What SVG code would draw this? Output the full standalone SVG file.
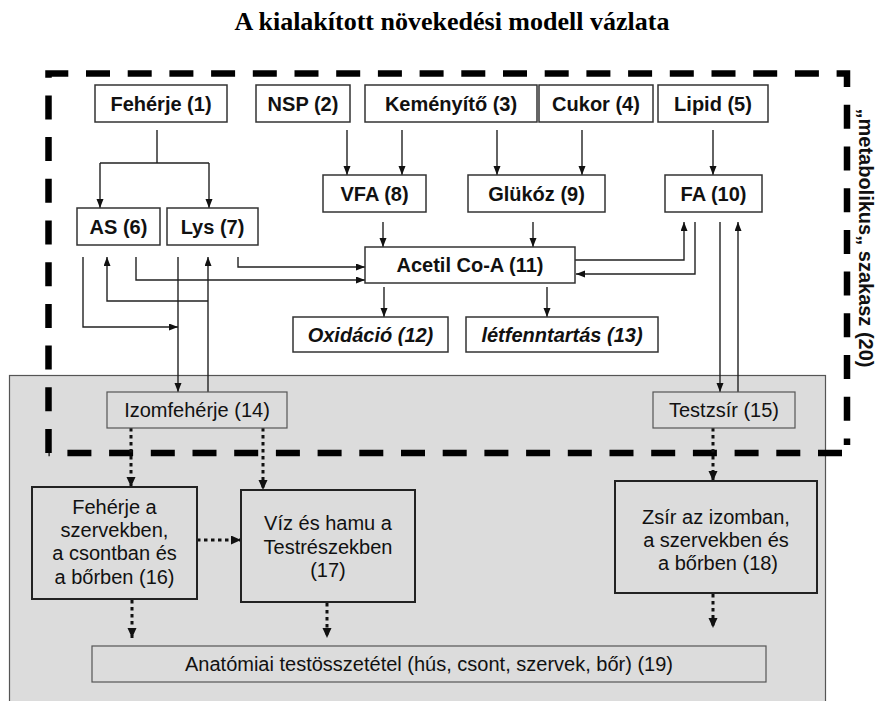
<svg xmlns="http://www.w3.org/2000/svg" width="878" height="701" viewBox="0 0 878 701">
<style>
.box{fill:#fff;stroke:#333;stroke-width:1.5}
.gbox{fill:#dcdcdc;stroke:#555;stroke-width:1.2}
.gbox2{fill:#dcdcdc;stroke:#222;stroke-width:2}
.t{font-family:"Liberation Sans",Arial,sans-serif;font-size:20px;text-anchor:middle;fill:#111}
.b{font-weight:bold}
.i{font-style:italic}
.conn{fill:none;stroke:#222;stroke-width:1.4}
.dot{fill:none;stroke:#111;stroke-width:3;stroke-dasharray:3.5 3.5}
.border{fill:none;stroke:#000;stroke-width:6.5;stroke-dasharray:24 17.7}
</style>
<defs>
<marker id="a" markerUnits="userSpaceOnUse" markerWidth="10" markerHeight="8" refX="9" refY="3.5" orient="auto"><path d="M0,0 L9,3.5 L0,7 z" fill="#111"/></marker>
<marker id="ad" markerUnits="userSpaceOnUse" markerWidth="11" markerHeight="10" refX="10" refY="4.5" orient="auto"><path d="M0,0 L10,4.5 L0,9 z" fill="#111"/></marker>
</defs>
<rect x="0" y="0" width="878" height="701" fill="#fff"/>
<text x="452" y="30" font-family="'Liberation Serif','Times New Roman',serif" font-size="26" font-weight="bold" text-anchor="middle" fill="#000">A kialakított növekedési modell vázlata</text>
<rect x="9.5" y="375.5" width="816" height="340" fill="#dcdcdc" stroke="#555" stroke-width="1.2"/>
<path class="border" d="M48.5,453 V73.5 H847 V445 M842,453 H48.5"/>
<text class="t b" transform="translate(859,238) rotate(90)">„metabolikus„ szakasz (20)</text>
<g id="connectors">
<path class="conn" d="M157,130 V163 M100,163 H209" stroke="#444"/>
<path class="conn" d="M100,163 V208" marker-end="url(#a)"/>
<path class="conn" d="M209,163 V208" marker-end="url(#a)"/>
<path class="conn" d="M347,130 V175" marker-end="url(#a)"/>
<path class="conn" d="M402,130 V175" marker-end="url(#a)"/>
<path class="conn" d="M497,130 V175" marker-end="url(#a)"/>
<path class="conn" d="M582,130 V175" marker-end="url(#a)"/>
<path class="conn" d="M713,130 V175" marker-end="url(#a)"/>
<path class="conn" d="M383,222 V247" marker-end="url(#a)"/>
<path class="conn" d="M533,222 V247" marker-end="url(#a)"/>
<path class="conn" d="M384,287 V317" marker-end="url(#a)"/>
<path class="conn" d="M547,287 V317" marker-end="url(#a)"/>
<path class="conn" d="M575,260 H684 V222" marker-end="url(#a)"/>
<path class="conn" d="M695,222 V274 H576" marker-end="url(#a)"/>
<path class="conn" d="M720,222 V392" marker-end="url(#a)"/>
<path class="conn" d="M738,392 V222" marker-end="url(#a)"/>
<path class="conn" d="M238,257 V267 H365" marker-end="url(#a)"/>
<path class="conn" d="M136,257 V280 H365" marker-end="url(#a)"/>
<path class="conn" d="M83,257 V327 H178" marker-end="url(#a)"/>
<path class="conn" d="M208,301 H107 V257" marker-end="url(#a)"/>
<path class="conn" d="M208,392 V257" marker-end="url(#a)"/>
<path class="conn" d="M178,257 V392" marker-end="url(#a)"/>
<path class="dot" d="M131,428 V487" marker-end="url(#ad)"/>
<path class="dot" d="M263,428 V490" marker-end="url(#ad)"/>
<path class="dot" d="M197,540 H241" marker-end="url(#ad)"/>
<path class="dot" d="M132,600 V638" marker-end="url(#ad)"/>
<path class="dot" d="M327,603 V638" marker-end="url(#ad)"/>
<path class="dot" d="M713,428 V481" marker-end="url(#ad)"/>
<path class="dot" d="M713,594 V628" marker-end="url(#ad)"/>
</g>
<g id="n1"><rect class="box" x="95" y="85" width="132" height="37"/><text class="t b" x="161" y="110.5">Fehérje (1)</text></g>
<g id="n2"><rect class="box" x="256" y="85" width="94" height="37"/><text class="t b" x="303" y="110.5">NSP (2)</text></g>
<g id="n3"><rect class="box" x="365" y="85" width="172" height="37"/><text class="t b" x="451" y="110.5">Keményítő (3)</text></g>
<g id="n4"><rect class="box" x="539" y="85" width="114" height="37"/><text class="t b" x="596" y="110.5">Cukor (4)</text></g>
<g id="n5"><rect class="box" x="658" y="85" width="110" height="37"/><text class="t b" x="713" y="110.5">Lipid (5)</text></g>
<g id="n6"><rect class="box" x="77" y="208" width="83" height="37"/><text class="t b" x="118.5" y="233.5">AS (6)</text></g>
<g id="n7"><rect class="box" x="167" y="208" width="91" height="37"/><text class="t b" x="212.5" y="233.5">Lys (7)</text></g>
<g id="n8"><rect class="box" x="323" y="175" width="103" height="37"/><text class="t b" x="374.5" y="200.5">VFA (8)</text></g>
<g id="n9"><rect class="box" x="468" y="175" width="137" height="37"/><text class="t b" x="536.5" y="200.5">Glükóz (9)</text></g>
<g id="n10"><rect class="box" x="665" y="175" width="97" height="37"/><text class="t b" x="713.5" y="200.5">FA (10)</text></g>
<g id="n11"><rect class="box" x="365" y="247" width="210" height="36"/><text class="t b" x="470" y="272">Acetil Co-A (11)</text></g>
<g id="n12"><rect class="box" x="293" y="317" width="155" height="35"/><text class="t b i" x="370.5" y="341.5">Oxidáció (12)</text></g>
<g id="n13"><rect class="box" x="466" y="317" width="192" height="35"/><text class="t b i" x="562" y="341.5">létfenntartás (13)</text></g>
<g id="n14"><rect class="gbox" x="107" y="392" width="180" height="36"/><text class="t" x="197" y="417">Izomfehérje (14)</text></g>
<g id="n15"><rect class="gbox" x="653" y="392" width="142" height="36"/><text class="t" x="724" y="417">Testzsír (15)</text></g>
<g id="n16"><rect class="gbox2" x="32" y="487" width="165" height="112"/><text class="t" x="114.5" y="514">Fehérje a</text><text class="t" x="114.5" y="537">szervekben,</text><text class="t" x="114.5" y="560">a csontban és</text><text class="t" x="114.5" y="584">a bőrben (16)</text></g>
<g id="n17"><rect class="gbox2" x="241" y="490" width="174" height="112"/><text class="t" x="328" y="530">Víz és hamu a</text><text class="t" x="328" y="554">Testrészekben</text><text class="t" x="328" y="577">(17)</text></g>
<g id="n18"><rect class="gbox2" x="615" y="481" width="202" height="112"/><text class="t" x="716" y="524">Zsír az izomban,</text><text class="t" x="716" y="547">a szervekben és</text><text class="t" x="718" y="570">a bőrben (18)</text></g>
<g id="n19"><rect class="gbox" x="92" y="646" width="674" height="36"/><text class="t" x="429" y="671">Anatómiai testösszetétel (hús, csont, szervek, bőr) (19)</text></g>
</svg>
